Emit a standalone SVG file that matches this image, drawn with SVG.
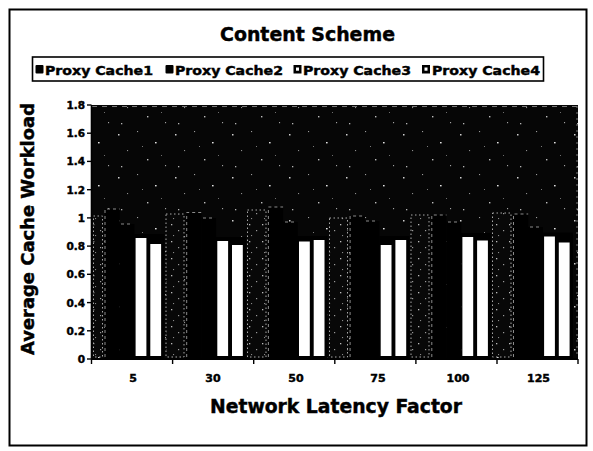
<svg xmlns="http://www.w3.org/2000/svg" width="593" height="451" viewBox="0 0 593 451">
  <defs>
    <style>
      .t { font-family: "DejaVu Sans", "Liberation Sans", sans-serif; font-weight: bold; fill: #000; stroke: #000; stroke-width: 0.45; }
      .tick { stroke: #000; stroke-width: 1.4; }
      .dark { fill: #000; }
      .light { fill: #fff; }
      .edge { fill: none; stroke: #8a8a8a; stroke-width: 1; stroke-dasharray: 3 3; }
      .gap { fill: url(#dense); stroke: #a8a8a8; stroke-width: 1; stroke-dasharray: 1.5 2.5; }
    </style>
    <!-- sparse irregular speckle over the dark plot background -->
    <pattern id="speckle" width="57" height="43" patternUnits="userSpaceOnUse">
      <rect width="57" height="43" fill="#060606"/>
      <rect x="4" y="5" width="1.5" height="1.5" fill="#cfcfcf"/>
      <rect x="23" y="2" width="1.1" height="1.1" fill="#9a9a9a"/>
      <rect x="41" y="13" width="1.6" height="1.4" fill="#e2e2e2"/>
      <rect x="13" y="21" width="1.1" height="1.1" fill="#8c8c8c"/>
      <rect x="33" y="30" width="1.4" height="1.4" fill="#bdbdbd"/>
      <rect x="51" y="36" width="1.1" height="1.2" fill="#a0a0a0"/>
      <rect x="7" y="37" width="1.3" height="1.3" fill="#b4b4b4"/>
      <rect x="28" y="17" width="1" height="1" fill="#7a7a7a"/>
      <rect x="47" y="26" width="1" height="1" fill="#6e6e6e"/>
    </pattern>
    <!-- slightly busier speckle for the columns between groups -->
    <pattern id="dense" width="13" height="17" patternUnits="userSpaceOnUse">
      <rect width="13" height="17" fill="#080808"/>
      <rect x="2" y="3" width="1.3" height="1.3" fill="#bbb"/>
      <rect x="9" y="9" width="1.2" height="1.2" fill="#999"/>
      <rect x="4" y="14" width="1.1" height="1.1" fill="#888"/>
    </pattern>
  </defs>

  <!-- page -->
  <rect x="0" y="0" width="593" height="451" fill="#fff"/>
  <rect id="frame" x="9.5" y="9.5" width="577" height="436" fill="#fff" stroke="#000" stroke-width="2"/>

  <!-- title -->
  <g id="title">
    <text class="t" x="220" y="41" font-size="20" textLength="175" lengthAdjust="spacingAndGlyphs">Content Scheme</text>
  </g>

  <!-- legend -->
  <g id="legend">
    <rect x="32.5" y="57" width="511" height="24" fill="#fff" stroke="#000" stroke-width="1.6"/>
    <g id="legend-cache1">
      <rect x="35.5" y="65" width="8" height="8.5" rx="1" class="dark"/>
      <text class="t" x="45" y="74.5" font-size="13" textLength="108" lengthAdjust="spacingAndGlyphs">Proxy Cache1</text>
    </g>
    <g id="legend-cache2">
      <rect x="165.5" y="65" width="8" height="8.5" rx="1" class="dark"/>
      <text class="t" x="175" y="74.5" font-size="13" textLength="108" lengthAdjust="spacingAndGlyphs">Proxy Cache2</text>
    </g>
    <g id="legend-cache3">
      <rect x="293.5" y="65" width="8" height="8.5" class="dark"/>
      <rect x="296" y="67.5" width="3" height="3.2" class="light"/>
      <text class="t" x="303" y="74.5" font-size="13" textLength="108" lengthAdjust="spacingAndGlyphs">Proxy Cache3</text>
    </g>
    <g id="legend-cache4">
      <rect x="422" y="65" width="8" height="8.5" class="dark"/>
      <rect x="424.5" y="67.5" width="3" height="3.2" class="light"/>
      <text class="t" x="432" y="74.5" font-size="13" textLength="108" lengthAdjust="spacingAndGlyphs">Proxy Cache4</text>
    </g>
  </g>

  <!-- plot area -->
  <g id="plot">
    <rect x="91.5" y="105" width="486.5" height="254" fill="url(#speckle)"/>
    <line x1="92" y1="106.5" x2="577" y2="106.5" stroke="#777" stroke-width="1" stroke-dasharray="5 5"/>
    <line x1="577" y1="106" x2="577" y2="357" stroke="#777" stroke-width="1" stroke-dasharray="2 4"/>

    <!-- columns between the bar groups -->
    <g id="gaps">
      <rect class="gap" x="93.5" y="216" width="9" height="141"/>
      <rect class="gap" x="166" y="214" width="18" height="143"/>
      <rect class="gap" x="247.5" y="210" width="18.5" height="147"/>
      <rect class="gap" x="329.5" y="218" width="18" height="139"/>
      <rect class="gap" x="411" y="215" width="18" height="142"/>
      <rect class="gap" x="492.5" y="213" width="18.5" height="144"/>
    </g>

    <!-- Proxy Cache1 -->
    <g id="series-cache1">
      <rect class="dark" x="105" y="209" width="14.7" height="150"/>
      <rect class="dark" x="186.7" y="212.5" width="14.7" height="146.5"/>
      <rect class="dark" x="268.4" y="207" width="14.7" height="152"/>
      <rect class="dark" x="350.1" y="216" width="14.7" height="143"/>
      <rect class="dark" x="431.8" y="215" width="14.7" height="144"/>
      <rect class="dark" x="513.5" y="214" width="14.7" height="145"/>
    </g>
    <!-- Proxy Cache2 -->
    <g id="series-cache2">
      <rect class="dark" x="119.7" y="224" width="14.7" height="135"/>
      <rect class="dark" x="201.4" y="218" width="14.7" height="141"/>
      <rect class="dark" x="283.1" y="222" width="14.7" height="137"/>
      <rect class="dark" x="364.8" y="221" width="14.7" height="138"/>
      <rect class="dark" x="446.5" y="222" width="14.7" height="137"/>
      <rect class="dark" x="528.2" y="227" width="14.7" height="132"/>
    </g>
    <!-- dark outlines around the light bars -->
    <g id="slots">
      <rect class="dark" x="134.4" y="234" width="30" height="125"/>
      <rect class="dark" x="216.1" y="237" width="30" height="122"/>
      <rect class="dark" x="297.8" y="236" width="30" height="123"/>
      <rect class="dark" x="379.5" y="236" width="30" height="123"/>
      <rect class="dark" x="461.2" y="233" width="30" height="126"/>
      <rect class="dark" x="542.9" y="232.5" width="30" height="126.5"/>
    </g>
    <!-- Proxy Cache3 -->
    <g id="series-cache3">
      <rect class="light" x="135.6" y="238" width="10.8" height="118"/>
      <rect class="light" x="217.3" y="241" width="10.8" height="115"/>
      <rect class="light" x="299" y="241.5" width="10.8" height="114.5"/>
      <rect class="light" x="380.7" y="245" width="10.8" height="111"/>
      <rect class="light" x="462.4" y="237" width="10.8" height="119"/>
      <rect class="light" x="544.1" y="236.5" width="10.8" height="119.5"/>
    </g>
    <!-- Proxy Cache4 -->
    <g id="series-cache4">
      <rect class="light" x="150.3" y="244" width="10.8" height="112"/>
      <rect class="light" x="232" y="245" width="10.8" height="111"/>
      <rect class="light" x="313.7" y="240" width="10.8" height="116"/>
      <rect class="light" x="395.4" y="240" width="10.8" height="116"/>
      <rect class="light" x="477.1" y="240.5" width="10.8" height="115.5"/>
      <rect class="light" x="558.8" y="242.5" width="10.8" height="113.5"/>
    </g>

    <!-- faint outlines on the dark bar tops -->
    <g id="bar-edges">
      <path class="edge" d="M105,357 V209 H119.7 M121,224 H133"/>
      <path class="edge" d="M186.7,357 V212.5 H201.4 M203,218 H215"/>
      <path class="edge" d="M268.4,357 V207 H283.1 M285,222 H296"/>
      <path class="edge" d="M350.1,357 V216 H364.8 M366,221 H378"/>
      <path class="edge" d="M431.8,357 V215 H446.5 M448,222 H460"/>
      <path class="edge" d="M513.5,357 V214 H528.2 M530,227 H542"/>
    </g>
  </g>

  <!-- value axis -->
  <g id="y-axis">
    <line x1="91.5" y1="105" x2="91.5" y2="359.5" stroke="#000" stroke-width="1.6"/>
    <g class="tick">
      <line x1="87" y1="105" x2="91.5" y2="105"/>
      <line x1="87" y1="133.2" x2="91.5" y2="133.2"/>
      <line x1="87" y1="161.4" x2="91.5" y2="161.4"/>
      <line x1="87" y1="189.7" x2="91.5" y2="189.7"/>
      <line x1="87" y1="217.9" x2="91.5" y2="217.9"/>
      <line x1="87" y1="246.1" x2="91.5" y2="246.1"/>
      <line x1="87" y1="274.3" x2="91.5" y2="274.3"/>
      <line x1="87" y1="302.6" x2="91.5" y2="302.6"/>
      <line x1="87" y1="330.8" x2="91.5" y2="330.8"/>
      <line x1="87" y1="359" x2="91.5" y2="359"/>
    </g>
    <g class="t" font-size="10.5" text-anchor="end">
      <text x="85" y="109">1.8</text>
      <text x="85" y="137.2">1.6</text>
      <text x="85" y="165.4">1.4</text>
      <text x="85" y="193.7">1.2</text>
      <text x="85" y="221.9">1</text>
      <text x="85" y="250.1">0.8</text>
      <text x="85" y="278.3">0.6</text>
      <text x="85" y="306.6">0.4</text>
      <text x="85" y="334.8">0.2</text>
      <text x="85" y="363">0</text>
    </g>
    <text class="t" font-size="18" text-anchor="middle" textLength="252" lengthAdjust="spacingAndGlyphs" transform="translate(34,229) rotate(-90)">Average Cache Workload</text>
  </g>

  <!-- category axis -->
  <g id="x-axis">
    <line x1="91" y1="359" x2="578" y2="359" stroke="#000" stroke-width="1.8"/>
    <g class="tick">
      <line x1="91.5" y1="359" x2="91.5" y2="364"/>
      <line x1="172.6" y1="359" x2="172.6" y2="364"/>
      <line x1="253.7" y1="359" x2="253.7" y2="364"/>
      <line x1="334.8" y1="359" x2="334.8" y2="364"/>
      <line x1="415.9" y1="359" x2="415.9" y2="364"/>
      <line x1="497" y1="359" x2="497" y2="364"/>
      <line x1="578" y1="359" x2="578" y2="364"/>
    </g>
    <g class="t" font-size="11" text-anchor="middle">
      <text x="133" y="382">5</text>
      <text x="213" y="382">30</text>
      <text x="296" y="382">50</text>
      <text x="378" y="382">75</text>
      <text x="458" y="382">100</text>
      <text x="538.5" y="382">125</text>
    </g>
    <text class="t" x="336" y="413" font-size="19" text-anchor="middle" textLength="252" lengthAdjust="spacingAndGlyphs">Network Latency Factor</text>
  </g>
</svg>
